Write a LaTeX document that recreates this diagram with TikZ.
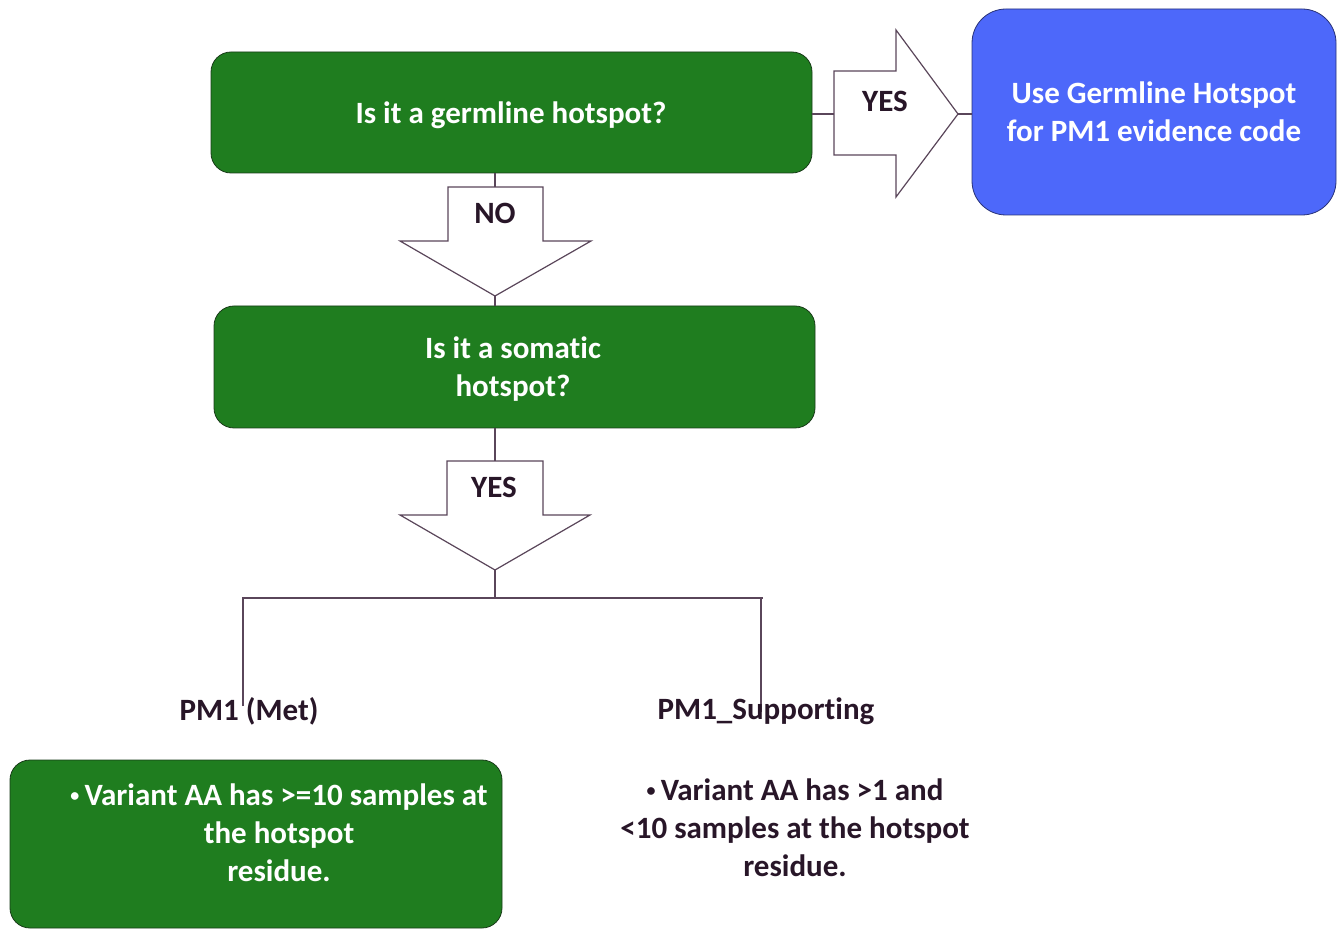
\documentclass[tikz,border=0pt]{standalone}
\usepackage{fontspec}
\setmainfont{Carlito}[RawFeature={-liga;-clig;-dlig;-calt}]
\usetikzlibrary{positioning}

\definecolor{boxgreen}{RGB}{31,125,31}
\definecolor{boxgreenline}{RGB}{25,60,25}
\definecolor{boxblue}{RGB}{77,104,250}
\definecolor{boxblueline}{RGB}{40,50,120}
\definecolor{ink}{RGB}{40,22,40}
\definecolor{wire}{RGB}{90,70,90}

\newcommand{\dotmark}{\raisebox{0.15em}{\fontsize{9}{9}\selectfont•}\,}

\tikzset{
  greenbox/.style={draw=boxgreenline, fill=boxgreen, rounded corners=10pt, text=white,
    align=center, font=\bfseries\fontsize{15.5}{19}\selectfont},
  bluebox/.style={draw=boxblueline, fill=boxblue, rounded corners=17pt, text=white,
    align=center, font=\bfseries\fontsize{15.5}{19}\selectfont},
  plain/.style={text=ink, align=center, font=\bfseries\fontsize{15.5}{19}\selectfont},
  blockarrow/.style={draw=wire, fill=white, line width=0.6pt},
  wireline/.style={draw=wire, line width=0.6pt}
}

\begin{document}
\begin{tikzpicture}[x=0.5pt, y=-0.5pt]
    \useasboundingbox (0,0) rectangle (1342,929);

    % decision boxes
    \node [greenbox, minimum width=300.5pt, minimum height=60.5pt] (germ) at (511.5,112.5) {};
    \node [text=white, font=\bfseries\fontsize{15.5}{19}\selectfont] (germTxt) at (511,115) {Is it a germline hotspot?};
    \node [bluebox, minimum width=182pt, minimum height=103pt] (useGerm) at (1154,112) {Use Germline Hotspot\\for PM1 evidence code};
    \node [greenbox, minimum width=300.5pt, minimum height=61pt] (somatic) at (514.5,367) {};
    \node [text=white, align=center, font=\bfseries\fontsize{15.5}{19}\selectfont] (somaticTxt) at (513,369) {Is it a somatic\\hotspot?};

    % block arrows
    \coordinate (yesTail) at (834,114);
    \coordinate (yesTip) at (958,114);
    \draw [blockarrow] (834,71) -- (896,71) -- (896,30) -- (yesTip) -- (896,197) -- (896,155) -- (834,155) -- cycle;
    \node [plain] (yesLbl) at (885,101) {YES};

    \coordinate (noTail) at (495,187);
    \coordinate (noTip) at (495,296);
    \draw [blockarrow] (448,187) -- (543,187) -- (543,241) -- (591,241) -- (noTip) -- (400,241) -- (448,241) -- cycle;
    \node [plain] (noLbl) at (495,213) {NO};

    \coordinate (hotTail) at (495,461);
    \coordinate (hotTip) at (495,570);
    \draw [blockarrow] (447,461) -- (543,461) -- (543,515) -- (590,515) -- (hotTip) -- (400,515) -- (447,515) -- cycle;
    \node [plain] (hotLbl) at (494,487) {YES};

    % connectors
    \draw [wireline] (germ.east |- yesTail) -- (yesTail);
    \draw [wireline] (yesTip) -- (yesTip -| useGerm.west);
    \draw [wireline] (noTail |- germ.south) -- (noTail);
    \draw [wireline] (noTip) -- (noTip |- somatic.north);
    \draw [wireline] (hotTail |- somatic.south) -- (hotTail);

    \coordinate (split) at (495,598);
    \coordinate (metEnd) at (243,706);
    \coordinate (suppEnd) at (761,712);
    \draw [wireline] (hotTip) -- (split);
    \draw [wireline] (metEnd) -- (243,598) -- (763,598);
    \draw [wireline] (suppEnd) -- (761,598);

    % outcomes
    \node [plain] (met) at (249,711) {PM1 (Met)};
    \node [plain] (supp) at (766,711) {PM1\_Supporting};

    \node [greenbox, minimum width=246pt, minimum height=84pt] (metBox) at (256,844) {};
    \node [plain, text=white] (metTxt) at (279,833) {\dotmark Variant AA has >=10 samples at\\the hotspot\\residue.};
    \node [plain] (suppTxt) at (795,828) {\dotmark Variant AA has >1 and\\<10 samples at the hotspot\\residue.};
\end{tikzpicture}
\end{document}
